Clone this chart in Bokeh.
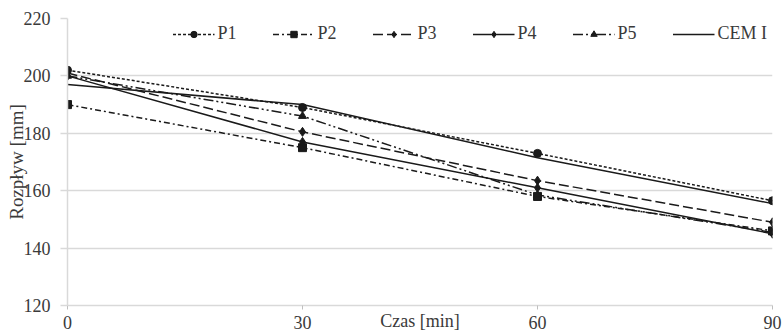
from bokeh.plotting import figure
from bokeh.models import Range1d, Legend, LegendItem, FixedTicker
from bokeh.embed import file_html
from bokeh.resources import INLINE

# Data
czas = [0, 30, 60, 90]
p1 = [202, 189, 173, 156.5]
p2 = [190, 175, 158, 146]
p3 = [201, 180.5, 163.5, 149]
p4 = [200, 177, 161, 145]
p5 = [200, 186, 158.5, 145.5]
cem = [197, 190, 171.5, 155.5]
x_ticks = [0, 30, 60, 90]
y_ticks = [120, 140, 160, 180, 200, 220]

FONT = "Liberation Serif"
TXT = "#3a3a3a"
GRID = "#d9d9d9"
INK = "#1a1a1a"

p = figure(width=783, height=336, output_backend="svg", toolbar_location=None,
           x_range=Range1d(0, 90), y_range=Range1d(120, 220),
           min_border_left=67, min_border_right=11, min_border_top=18, min_border_bottom=31)
p.outline_line_color = None
p.background_fill_color = "white"
p.border_fill_color = "white"
p.xgrid.grid_line_color = None
p.ygrid.grid_line_color = GRID
p.ygrid.grid_line_width = 1.5
p.ygrid.ticker = FixedTicker(ticks=y_ticks)

xa = p.xaxis[0]
xa.ticker = FixedTicker(ticks=x_ticks)
xa.axis_line_color = GRID
xa.axis_line_width = 1.5
xa.major_tick_line_color = "#bfbfbf"
xa.major_tick_out = 4
xa.major_tick_in = 0
xa.minor_tick_line_color = None
xa.major_label_standoff = 6
xa.major_label_text_font = FONT
xa.major_label_text_font_size = "18px"
xa.major_label_text_color = TXT
xa.axis_label = "Czas [min]"
xa.axis_label_text_font = FONT
xa.axis_label_text_font_size = "18px"
xa.axis_label_text_font_style = "normal"
xa.axis_label_text_color = TXT
xa.axis_label_standoff = -21

ya = p.yaxis[0]
ya.ticker = FixedTicker(ticks=y_ticks)
ya.axis_line_color = GRID
ya.axis_line_width = 1.5
ya.major_tick_line_color = GRID
ya.major_tick_line_width = 1.5
ya.major_tick_out = 7
ya.major_tick_in = 0
ya.minor_tick_line_color = None
ya.major_label_standoff = 10
ya.major_label_text_font = FONT
ya.major_label_text_font_size = "18px"
ya.major_label_text_color = TXT
ya.axis_label = "Rozpływ [mm]"
ya.axis_label_text_font = FONT
ya.axis_label_text_font_size = "19px"
ya.axis_label_text_font_style = "normal"
ya.axis_label_text_color = TXT
ya.axis_label_standoff = -6

items = []
series = [
    ("P1", p1, "3 2", "circle", 8),
    ("P2", p2, "6 3 2 3", "square", 8),
    ("P3", p3, "10 4", "diamond", 9),
    ("P4", p4, "solid", "diamond", 9),
    ("P5", p5, "10 3 2 3 2 3", "triangle", 8),
]
for name, ys, dash, marker, size in series:
    lr = p.line(czas, ys, line_color=INK, line_width=1.5, line_dash=dash)
    sr = p.scatter(czas, ys, marker=marker, size=size, fill_color=INK, line_color=INK)
    items.append(LegendItem(label=name, renderers=[lr, sr]))
lc = p.line(czas, cem, line_color=INK, line_width=1.5)
items.append(LegendItem(label="CEM I", renderers=[lc]))

legend = Legend(items=items, orientation="horizontal", location="top_right",
                margin=5, padding=0, spacing=35, glyph_width=42, glyph_height=16,
                label_standoff=3, border_line_color=None, background_fill_alpha=0,
                label_text_font=FONT, label_text_font_size="18px", label_text_color=TXT)
p.add_layout(legend)

open("out.html", "w").write(file_html(p, INLINE))
